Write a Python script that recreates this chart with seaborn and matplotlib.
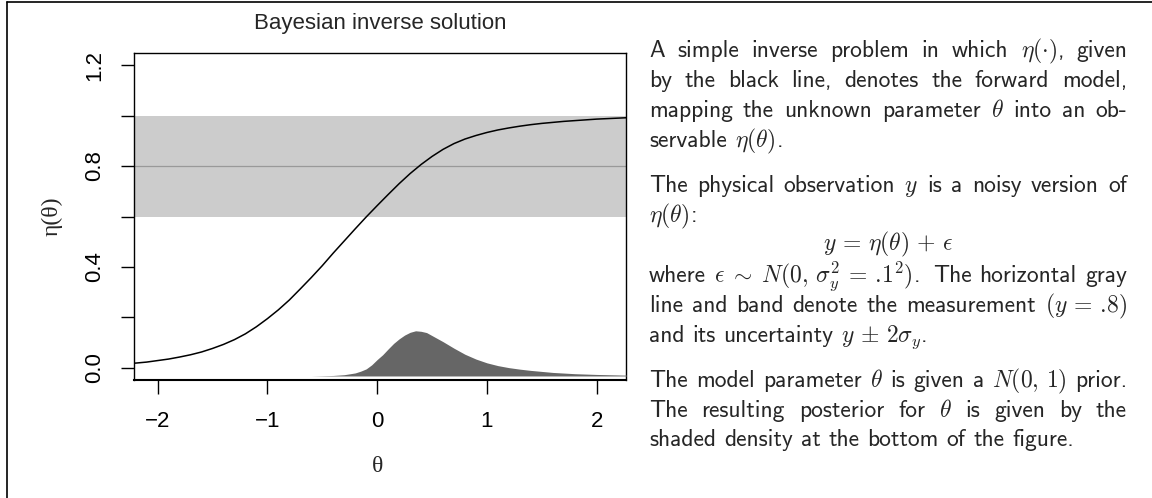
import matplotlib
matplotlib.use("Agg")
import matplotlib.pyplot as plt
import seaborn as sns
import pandas as pd
from matplotlib.lines import Line2D

# forward model eta(theta)
theta = [-2.3, -2.2, -2.1, -2.0, -1.9, -1.8, -1.7, -1.6, -1.5, -1.4, -1.3, -1.2,
         -1.1, -1.0, -0.9, -0.8, -0.7, -0.6, -0.5, -0.4, -0.3, -0.2, -0.1, 0.0,
         0.1, 0.2, 0.3, 0.4, 0.5, 0.6, 0.7, 0.8, 0.9, 1.0, 1.1, 1.2,
         1.3, 1.4, 1.5, 1.6, 1.7, 1.8, 1.9, 2.0, 2.1, 2.2, 2.3]
eta = [0.016, 0.019, 0.023, 0.029, 0.035, 0.043, 0.052, 0.063, 0.077, 0.093, 0.112, 0.135,
       0.163, 0.195, 0.230, 0.269, 0.313, 0.358, 0.405, 0.455, 0.503, 0.551, 0.598, 0.643,
       0.687, 0.730, 0.770, 0.806, 0.838, 0.866, 0.889, 0.907, 0.921, 0.933, 0.943, 0.951,
       0.958, 0.964, 0.969, 0.973, 0.977, 0.980, 0.983, 0.986, 0.988, 0.990, 0.992]

# posterior density drawn as a shaded band at the bottom
post_theta = [-0.6, -0.5, -0.4, -0.3, -0.2, -0.15, -0.1, -0.05, 0.0, 0.05, 0.1, 0.15,
              0.2, 0.25, 0.3, 0.35, 0.4, 0.45, 0.5, 0.55, 0.6, 0.7, 0.8, 0.9,
              1.0, 1.1, 1.2, 1.3, 1.4, 1.5, 1.6, 1.8, 2.0, 2.3]
post_top = [-0.032, -0.031, -0.030, -0.027, -0.020, -0.013, -0.004, 0.012, 0.033, 0.052,
            0.075, 0.097, 0.115, 0.130, 0.141, 0.147, 0.145, 0.140, 0.128, 0.116, 0.104,
            0.078, 0.054, 0.035, 0.020, 0.009, 0.001, -0.005, -0.010, -0.014, -0.018,
            -0.023, -0.026, -0.029]
post_base = -0.032

# measurement and its uncertainty
y_obs = 0.8
sigma_y = 0.1

x_ticks = [-2, -1, 0, 1, 2]
x_ticklabels = ["\u22122", "\u22121", "0", "1", "2"]
y_ticks = [0.0, 0.2, 0.4, 0.6, 0.8, 1.0, 1.2]
y_ticklabels = ["0.0", "", "0.4", "", "0.8", "", "1.2"]

title = "Bayesian inverse solution"

# right-hand caption, one list of words per line; True = justified line
caption = [
    (["A", "simple", "inverse", "problem", "in", "which", r"$\eta(\cdot)$,", "given"], True, 57),
    (["by", "the", "black", "line,", "denotes", "the", "forward", "model,"], True, 87),
    (["mapping", "the", "unknown", "parameter", r"$\theta$", "into", "an", "ob-"], True, 117),
    (["servable", r"$\eta(\theta)$."], False, 147),
    (["The", "physical", "observation", r"$y$", "is", "a", "noisy", "version", "of"], True, 192),
    ([r"$\eta(\theta)$:"], False, 222),
    (["where", r"$\epsilon\;\sim\;N(0,\,\sigma_y^2\,=\,.\!1^2)$.", "The", "horizontal", "gray"],
     True, 282),
    (["line", "and", "band", "denote", "the", "measurement", r"$(y\,=\,.\!8)$"], True, 312),
    (["and", "its", "uncertainty", r"$y\,\pm\,2\sigma_y$."], False, 342),
    (["The", "model", "parameter", r"$\theta$", "is", "given", "a", r"$N(0,\,1)$", "prior."], True, 387),
    (["The", "resulting", "posterior", "for", r"$\theta$", "is", "given", "by", "the"], True, 417),
    (["shaded", "density", "at", "the", "bottom", "of", "the", "figure."], False, 446),
]
equation = r"$y\,=\,\eta(\theta)\,+\,\epsilon$"
equation_y = 250

sns.set_theme(style="white")
plt.rcParams["font.family"] = ["Liberation Sans", "DejaVu Sans"]
plt.rcParams["mathtext.fontset"] = "cm"
plt.rcParams["axes.unicode_minus"] = False

W, H = 1152, 498
fig = plt.figure(figsize=(W / 100, H / 100), dpi=100)
fig.patch.set_facecolor("white")

left, right, top, bottom = 134, 626, 53, 380
ax = fig.add_axes([left / W, 1 - bottom / H, (right - left) / W, (bottom - top) / H])

# measurement band and line
ax.axhspan(y_obs - 2 * sigma_y, y_obs + 2 * sigma_y, color="#cccccc", lw=0, zorder=1)
ax.axhline(y_obs, color="#999999", lw=0.9, zorder=2)

# posterior
ax.fill_between(post_theta, post_base, post_top, color="#666666", lw=0, zorder=3)

# forward model
df = pd.DataFrame({"theta": theta, "eta": eta})
sns.lineplot(data=df, x="theta", y="eta", color="black", lw=1.1, ax=ax, zorder=4)

ax.set_xlim(-2.215, 2.267)
ax.set_ylim(-0.048, 1.248)
ax.set_xticks(x_ticks)
ax.set_xticklabels(x_ticklabels)
ax.set_yticks(y_ticks)
ax.set_yticklabels(y_ticklabels, rotation=90, va="center")
ax.set_xlabel("")
ax.set_ylabel("")
for s in ax.spines.values():
    s.set_visible(True)
    s.set_color("black")
    s.set_linewidth(1.0)
ax.spines["bottom"].set_linewidth(1.5)
ax.tick_params(axis="both", direction="out", length=10, width=1.0, color="black",
               labelsize=16, pad=12, labelcolor="black", bottom=True, left=True)
ax.tick_params(axis="y", length=9.5, pad=11)

# title and axis labels
fig.text(380 / W, 1 - 23 / H, title, ha="center", va="center", fontsize=16)
serif = ["Liberation Serif", "DejaVu Serif"]
fig.text(378 / W, 1 - 466 / H, "\u03b8", ha="center", va="center", fontsize=17, family=serif)
fig.text(52 / W, 1 - 216 / H, "\u03b7(\u03b8)", ha="center", va="center", fontsize=17,
         family=serif, rotation=90)

# outer frame (top and left edges only)
fig.add_artist(Line2D([6.5 / W, 6.5 / W], [0, 1 - 2.5 / H], color="black", lw=1.2,
                      transform=fig.transFigure))
fig.add_artist(Line2D([6.5 / W, 1], [1 - 2.5 / H, 1 - 2.5 / H], color="black", lw=1.2,
                      transform=fig.transFigure))

# caption with justified lines
body = ["cmss10", "DejaVu Sans"]
renderer = fig.canvas.get_renderer()
col_left, col_right = 649, 1127


def widths(tokens, fs):
    out = []
    for tok in tokens:
        t = fig.text(0, 0, tok, fontsize=fs, family=body)
        out.append(t.get_window_extent(renderer).width)
        t.remove()
    return out


def space_width(fs):
    a = fig.text(0, 0, "n n", fontsize=fs, family=body)
    b = fig.text(0, 0, "nn", fontsize=fs, family=body)
    w = a.get_window_extent(renderer).width - b.get_window_extent(renderer).width
    a.remove()
    b.remove()
    return w


def gap_weights(tokens):
    # a bit more stretch after a sentence end
    return [1.6 if t.endswith(".") else 1.0 for t in tokens[:-1]]


# pick the size so that the widest natural line just fills the column
fs0 = 10
sp0 = space_width(fs0)
natural = [sum(widths(toks, fs0)) + sp0 * (len(toks) - 1) for toks, just, _ in caption if just]
fs = fs0 * (col_right - col_left) * 1.005 / max(natural)
sp = space_width(fs)

for toks, just, yb in caption:
    ws = widths(toks, fs)
    wts = gap_weights(toks)
    if just and len(toks) > 1:
        unit = (col_right - col_left - sum(ws)) / sum(wts)
        gaps = [unit * g for g in wts]
    else:
        gaps = [sp] * (len(toks) - 1)
    x = col_left
    for i, (tok, w) in enumerate(zip(toks, ws)):
        fig.text(x / W, 1 - yb / H, tok, fontsize=fs, family=body, ha="left", va="baseline")
        if i < len(gaps):
            x += w + gaps[i]

fig.text((col_left + col_right) / 2 / W, 1 - equation_y / H, equation, fontsize=fs,
         family=body, ha="center", va="baseline")

fig.savefig("out.png", dpi=100, facecolor="white")
